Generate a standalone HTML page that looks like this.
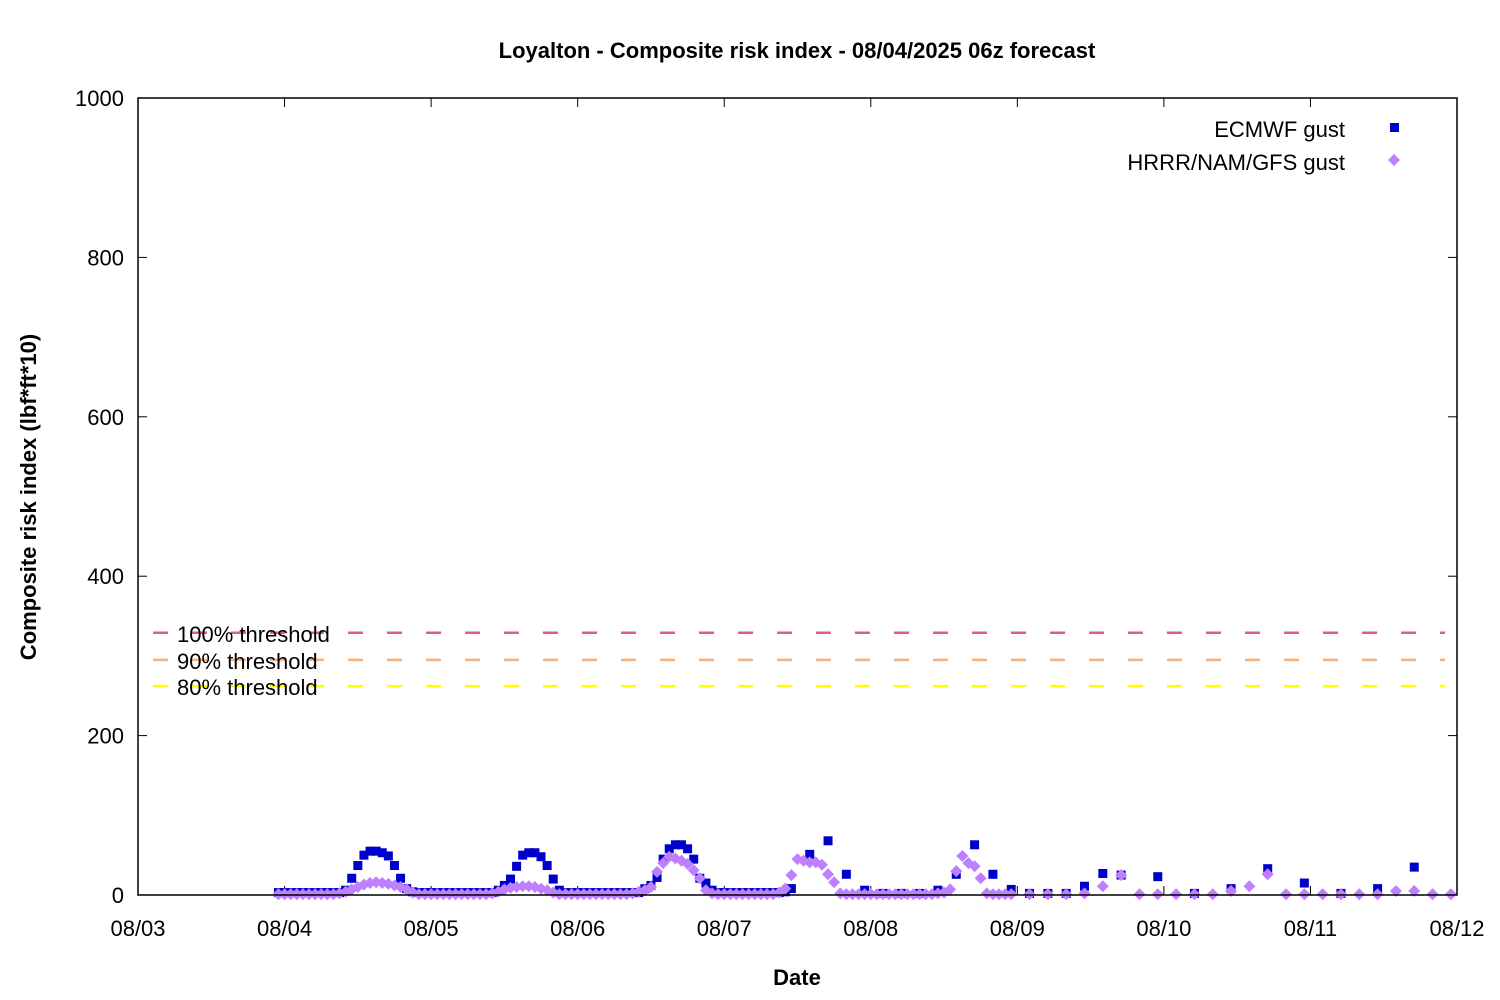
<!DOCTYPE html>
<html><head><meta charset="utf-8"><style>
body{margin:0;background:#fff;}
svg{display:block;font-family:"Liberation Sans",sans-serif;}
</style></head><body>
<svg id="chart" width="1500" height="1000" viewBox="0 0 1500 1000" xmlns="http://www.w3.org/2000/svg">
<rect width="1500" height="1000" fill="#fff"/>
<text x="797" y="58" text-anchor="middle" font-size="22" font-weight="bold">Loyalton - Composite risk index - 08/04/2025 06z forecast</text>
<text transform="translate(36,497) rotate(-90)" text-anchor="middle" font-size="22" font-weight="bold">Composite risk index (lbf*ft*10)</text>
<text x="797" y="985" text-anchor="middle" font-size="22" font-weight="bold">Date</text>
<g id="grid"></g>
<g id="thresholds"></g>
<g id="marks"></g>
<rect x="138" y="98" width="1319" height="797" fill="none" stroke="#000" stroke-width="1.5"/>
<g id="legend">
<text x="1345" y="137" text-anchor="end" font-size="22">ECMWF gust</text>
<rect x="1390" y="123" width="9" height="9" fill="#0000cc"/>
<text x="1345" y="170" text-anchor="end" font-size="22">HRRR/NAM/GFS gust</text>
<polygon points="1394,154 1400,160 1394,166 1388,160" fill="#bf80ff"/>
</g>
</svg>
<script>
const yTicks=[0,200,400,600,800,1000];
const xTickLabels=["08/03","08/04","08/05","08/06","08/07","08/08","08/09","08/10","08/11","08/12"];
const thresholdValues=[329,295,262];
const thresholdLabels=["100% threshold","90% threshold","80% threshold"];
const thresholdColors=["#e0607a","#f4b183","#ffff00"];
const ecmwfHours=[];
const ecmwfVals=[];
const ecmwfHourly=[3,3,3,3,3,3,3,3,3,3,3,6,21,37,50,55,55,53,49,37,21,8,4,3,3,3,3,3,3,3,3,3,3,3,3,3,6,12,20,36,50,53,53,48,37,20,6,3,3,3,3,3,3,3,3,3,3,3,3,3,8,12,22,45,58,63,63,58,45,21,15,6,3,3,3,3,3,3,3,3,3,3,3,4,8];
const ecmwf3Hours=[110,113,116,119,122,125,128,131,134,137,140,143,146,149,152,155,158,161,167,173,179,185,191,197,203,209];
const ecmwf3Vals=[51,68,26,6,2,2,2,6,26,63,26,7,2,2,2,11,27,25,23,2,8,33,15,2,8,35];
const hrrrHourly=[1,1,1,1,1,1,1,1,1,1,2,4,7,10,13,15,16,15,14,12,10,7,3,1,1,1,1,1,1,1,1,1,1,1,1,2,4,7,9,10,11,11,10,8,6,3,1,1,1,1,1,1,1,1,1,1,1,1,2,4,6,10,29,40,48,46,43,39,31,21,6,2,1,1,1,1,1,1,1,1,1,1,3,8,25,45,43,41,41,38,26,16,2,1,1,1,1,1,1,1,1,1,1,1,1,1,1,1,2,3,7,30,49,40,36,21,2,1,1,1,1];
const hrrr3Hours=[146,149,152,155,158,161,164,167,170,173,176,179,182,185,188,191,194,197,200,203,206,209,212,215];
const hrrr3Vals=[1,1,1,2,11,25,1,1,1,1,1,5,11,26,1,1,1,1,1,1,5,5,1,1];
for(let i=0;i<ecmwfHourly.length;i++){ecmwfHours.push(23+i);ecmwfVals.push(ecmwfHourly[i]);}
for(let i=0;i<ecmwf3Hours.length;i++){ecmwfHours.push(ecmwf3Hours[i]);ecmwfVals.push(ecmwf3Vals[i]);}
const hrrrHours=[],hrrrVals=[];
for(let i=0;i<hrrrHourly.length;i++){hrrrHours.push(23+i);hrrrVals.push(hrrrHourly[i]);}
for(let i=0;i<hrrr3Hours.length;i++){hrrrHours.push(hrrr3Hours[i]);hrrrVals.push(hrrr3Vals[i]);}

const X0=138,X1=1457,Y0=895,Y1=98;
function xs(h){return X0+h*(X1-X0)/216;}
function ys(v){return Y0-v*(Y0-Y1)/1000;}
const NS="http://www.w3.org/2000/svg";
function mk(tag,attrs,parent){const e=document.createElementNS(NS,tag);for(const k in attrs)e.setAttribute(k,attrs[k]);parent.appendChild(e);return e;}
const grid=document.getElementById('grid');
yTicks.forEach(v=>{
  const y=ys(v);
  const t1=mk('line',{x1:X0,x2:X0+9,y1:y,y2:y,stroke:'#000'},grid);
  
  
  const t2=mk('line',{x1:X1-9,x2:X1,y1:y,y2:y,stroke:'#000'},grid);
  
  
  const tx=mk('text',{x:124,y:y+8,'text-anchor':'end','font-size':'22'},grid);
  tx.textContent=v;
  
  
});
xTickLabels.forEach((lab,i)=>{
  const x=xs(i*24);
  const t1=mk('line',{x1:x,x2:x,y1:Y0,y2:Y0-9,stroke:'#000'},grid);
  
  
  const t2=mk('line',{x1:x,x2:x,y1:Y1,y2:Y1+9,stroke:'#000'},grid);
  
  
  const tx=mk('text',{x:x,y:936,'text-anchor':'middle','font-size':'22'},grid);
  tx.textContent=lab;
  
  
});
const th=document.getElementById('thresholds');
thresholdValues.forEach((v,i)=>{
  const y=ys(v);
  const ln=mk('line',{x1:X0,x2:X1-12,y1:y,y2:y,stroke:thresholdColors[i],'stroke-width':'2.5','stroke-dasharray':'15 24','stroke-dashoffset':'-15'},th);
  
  
  const tx=mk('text',{x:177,y:y+9,'font-size':'22'},th);
  tx.textContent=thresholdLabels[i];
  
  
});
const marks=document.getElementById('marks');
ecmwfHours.forEach((h,i)=>{
  const x=xs(h),y=ys(ecmwfVals[i]);
  const r=mk('rect',{x:x-4.5,y:y-4.5,width:9,height:9,fill:'#0000cc'},marks);
  
  
});
hrrrHours.forEach((h,i)=>{
  const x=xs(h),y=ys(hrrrVals[i]);
  const p=mk('polygon',{points:`${x},${y-6} ${x+6},${y} ${x},${y+6} ${x-6},${y}`,fill:'#bf80ff'},marks);
  
  
});
</script>
</body></html>
